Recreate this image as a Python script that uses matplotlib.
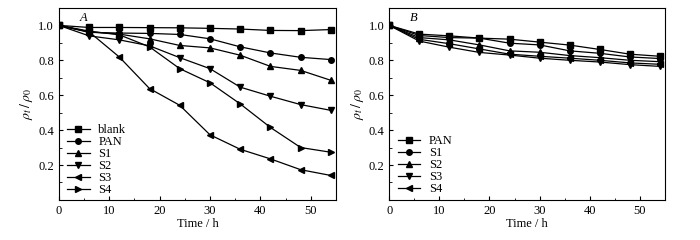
import matplotlib
matplotlib.use("Agg")
import matplotlib.pyplot as plt
from matplotlib.ticker import MultipleLocator

plt.rcParams['font.family'] = ['Liberation Serif', 'DejaVu Serif']
plt.rcParams['mathtext.fontset'] = 'stix'

time_h = [0, 6, 12, 18, 24, 30, 36, 42, 48, 54]

# panel A
labels_a = ['blank', 'PAN', 'S1', 'S2', 'S3', 'S4']
blank_a = [1.0, 0.988, 0.988, 0.987, 0.986, 0.983, 0.979, 0.971, 0.970, 0.976]
pan_a = [1.0, 0.960, 0.956, 0.954, 0.948, 0.923, 0.877, 0.842, 0.817, 0.804]
s1_a = [1.0, 0.963, 0.950, 0.923, 0.885, 0.871, 0.829, 0.765, 0.742, 0.685]
s2_a = [1.0, 0.940, 0.917, 0.883, 0.815, 0.752, 0.646, 0.594, 0.546, 0.513]
s3_a = [1.0, 0.963, 0.819, 0.638, 0.542, 0.373, 0.290, 0.235, 0.173, 0.140]
s4_a = [1.0, 0.967, 0.946, 0.877, 0.752, 0.671, 0.550, 0.415, 0.300, 0.273]

# panel B
labels_b = ['PAN', 'S1', 'S2', 'S3', 'S4']
pan_b = [1.0, 0.950, 0.940, 0.927, 0.921, 0.904, 0.887, 0.862, 0.835, 0.823]
s1_b = [1.0, 0.942, 0.930, 0.927, 0.898, 0.888, 0.854, 0.840, 0.819, 0.810]
s2_b = [1.0, 0.930, 0.917, 0.888, 0.854, 0.846, 0.827, 0.815, 0.800, 0.792]
s3_b = [1.0, 0.910, 0.875, 0.845, 0.830, 0.812, 0.800, 0.790, 0.775, 0.765]
s4_b = [1.0, 0.920, 0.895, 0.865, 0.835, 0.823, 0.812, 0.800, 0.785, 0.777]

markers_a = ['s', 'o', '^', 'v', '<', '>']
markers_b = ['s', 'o', '^', 'v', '<']

fig = plt.figure(figsize=(7, 2.4), dpi=100)
ax_a = fig.add_axes([0.084, 0.167, 0.396, 0.80])
ax_b = fig.add_axes([0.556, 0.167, 0.394, 0.80])


def style(ax, tag):
    ax.set_xlim(0, 55)
    ax.set_ylim(0, 1.1)
    ax.xaxis.set_major_locator(MultipleLocator(10))
    ax.xaxis.set_minor_locator(MultipleLocator(5))
    ax.yaxis.set_minor_locator(MultipleLocator(0.1))
    ax.set_yticks([0.2, 0.4, 0.6, 0.8, 1.0])
    ax.set_yticklabels(['0.2', '0.4', '0.6', '0.8', '1.0'])
    ax.tick_params(which='both', direction='in', labelsize=9)
    ax.tick_params(which='major', length=3)
    ax.tick_params(which='minor', length=1.8)
    ax.set_xlabel('Time / h', fontsize=9, labelpad=1)
    ax.set_ylabel(r'$\rho_t\,/\,\rho_0$', fontsize=10, labelpad=2)
    ax.text(0.075, 0.93, tag, transform=ax.transAxes, fontsize=9,
            style='italic')
    for s in ax.spines.values():
        s.set_linewidth(0.8)


series_a = [blank_a, pan_a, s1_a, s2_a, s3_a, s4_a]
for y, m, lab in zip(series_a, markers_a, labels_a):
    ax_a.plot(time_h, y, color='black', lw=0.9, marker=m, ms=4, label=lab)
style(ax_a, 'A')
ax_a.legend(loc='lower left', bbox_to_anchor=(0.012, -0.005), frameon=False,
            fontsize=9, handlelength=1.8, labelspacing=0.0,
            handletextpad=0.7, borderaxespad=0.0)

series_b = [pan_b, s1_b, s2_b, s3_b, s4_b]
for y, m, lab in zip(series_b, markers_b, labels_b):
    ax_b.plot(time_h, y, color='black', lw=0.9, marker=m, ms=4, label=lab)
style(ax_b, 'B')
ax_b.legend(loc='lower left', bbox_to_anchor=(0.012, 0.0), frameon=False,
            fontsize=9, handlelength=1.8, labelspacing=0.0,
            handletextpad=0.7, borderaxespad=0.0)

fig.savefig('out.png', dpi=100)
